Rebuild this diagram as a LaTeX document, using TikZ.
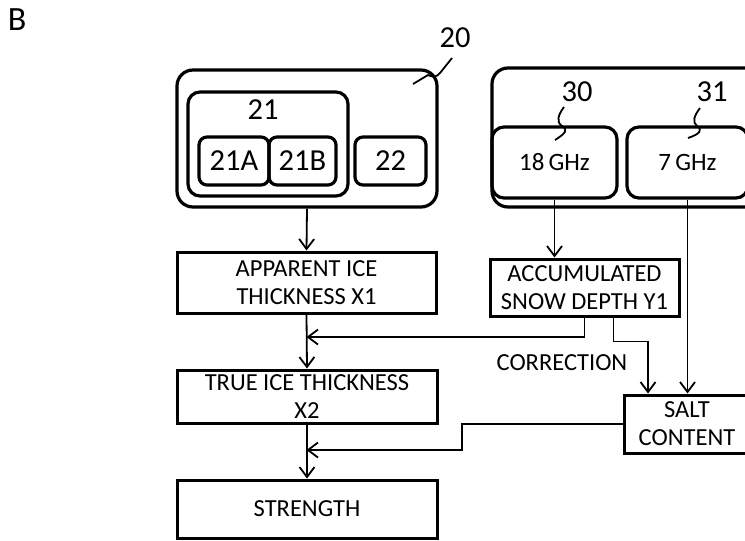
\documentclass[tikz,border=0pt]{standalone}
\usepackage{fontspec}
\setmainfont{Carlito}
\usetikzlibrary{arrows.meta}
\begin{document}
\begin{tikzpicture}[x=1pt,y=-1pt,
 rbox/.style={draw, line width=3.2pt, rounded corners=12pt, inner sep=0pt},
 sbox/.style={draw, line width=3pt, inner sep=0pt, align=center, font=\fontsize{24.5}{28}\selectfont},
 conn/.style={line width=1.8pt, -{Straight Barb[length=10pt,width=15pt,line width=1.8pt]}},
 plain/.style={line width=1.8pt},
 lbl/.style={font=\fontsize{30.5}{32}\selectfont, inner sep=0pt},
 ghz/.style={font=\fontsize{25}{28}\selectfont}
]
\useasboundingbox (0,0) rectangle (745,541);
\clip (0,0) rectangle (745,541);

\node[font=\fontsize{34}{36}\selectfont, inner sep=0pt] (B) at (17,20) {B};

% group 20
\node[rbox, rounded corners=16pt, minimum width=260, minimum height=137] (g20) at (307,138.5) {};
\node[rbox, minimum width=160, minimum height=104] (g21) at (268,144) {};
\node[lbl] (l21) at (263,110) {21};
\node[rbox, rounded corners=8pt, minimum width=70, minimum height=48, lbl] (a21) at (234,161) {21A};
\node[rbox, rounded corners=8pt, minimum width=67, minimum height=48, lbl] (b21) at (302.5,161) {21B};
\node[rbox, rounded corners=8pt, minimum width=71, minimum height=48, lbl] (n22) at (390.5,161) {22};
\node[lbl] (l20) at (455,38) {20};
\draw[plain] (452,58) -- (440,73) .. controls (436,78) and (432,77) .. (428,75) -- (413,84);

% group 30/31
\node[rbox, rounded corners=16pt, minimum width=278, minimum height=139] (g3) at (631,137.5) {};
\node[rbox, minimum width=125, minimum height=71, ghz] (f18) at (554.5,162.5) {18\,GHz};
\node[rbox, minimum width=121, minimum height=71, ghz] (f7) at (687.5,162.5) {7\,GHz};
\node[lbl] (l30) at (577,92) {30};
\node[lbl] (l31) at (712,92) {31};
\draw[plain] (564,107) .. controls (558,115) and (556,122) .. (562,126) .. controls (568,130) and (566,133) .. (555,140);
\draw[plain] (700,108) .. controls (694,116) and (692,122) .. (697,126) .. controls (703,130) and (700,134) .. (688,138);

% process boxes
\node[sbox, minimum width=259, minimum height=61] (app) at (306.5,282.5) {APPARENT ICE\\THICKNESS X1};
\node[sbox, minimum width=260, minimum height=53] (true) at (307,396.5) {TRUE ICE THICKNESS\\X2};
\node[sbox, minimum width=260, minimum height=58] (str) at (307,509) {STRENGTH};
\node[sbox, minimum width=189, minimum height=57] (acc) at (584.5,287.5) {ACCUMULATED\\SNOW DEPTH Y1};
\node[sbox, minimum width=126, minimum height=58] (salt) at (687,424) {SALT\\CONTENT};
\node[font=\fontsize{24.5}{28}\selectfont] (corr) at (562,363) {CORRECTION};

\coordinate (j1) at (306.5,337);
\coordinate (j2) at (306.5,450);
\coordinate (k1) at (462,424);
\coordinate (k2) at (462,450);

% connectors
\draw[conn] (g20.south) -- (app.north);
\draw[conn] (f18.south) -- (f18.south |- acc.north);
\draw[conn] (app.south) -- (true.north);
\draw[conn] (acc.south) -- (acc.south |- j1) -- (j1);
\draw[conn] ([xshift=29pt]acc.south) -- ++(0,24) -| ([xshift=-39pt]salt.north);
\draw[conn] (f7.south) -- (f7.south |- salt.north);
\draw[conn] (true.south) -- (str.north);
\draw[conn] (salt.west) -- (k1) -- (k2) -- (j2);
\end{tikzpicture}
\end{document}
